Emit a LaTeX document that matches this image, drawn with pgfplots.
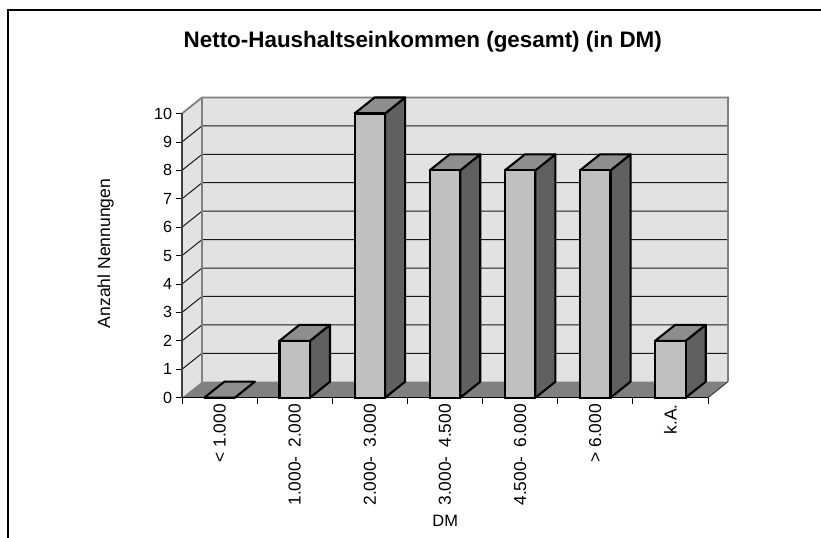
\documentclass[border=0pt]{standalone}
\usepackage{fontspec}
\setmainfont{Liberation Sans}
\usepackage{pgfplots}
\usepackage{pgfplotstable}
\pgfplotsset{compat=1.18}
\definecolor{wallc}{HTML}{E2E2E2}
\definecolor{floorc}{HTML}{808080}
\definecolor{frontc}{HTML}{C0C0C0}
\definecolor{topc}{HTML}{8E8E8E}
\definecolor{sidec}{HTML}{606060}
\pgfplotstableread{
pos val
0.5 0
1.5 2
2.5 10
3.5 8
4.5 8
5.5 8
6.5 2
}\bars
\newcommand{\gap}{\hspace{4bp} }
\begin{document}
\begin{tikzpicture}[x=1bp,y=1bp]
\useasboundingbox (0,0) rectangle (821,538);
\draw[line width=1.5bp,black] (8,0) -- (8,528) -- (821,528);
\begin{axis}[
  at={(182bp,140.3bp)}, anchor=south west,
  scale only axis, width=546bp, height=300.2bp,
  xmin=0, xmax=7.2665, ymin=0, ymax=10.563,
  clip=false,
  axis line style={draw=none},
  tick align=outside,
  xtick pos=lower, ytick pos=left,
  xtick={0.5,1.5,2.5,3.5,4.5,5.5,6.5},
  xticklabels={{< 1.000},{1.000-\gap 2.000},{2.000-\gap 3.000},{3.000-\gap 4.500},{4.500-\gap 6.000},{> 6.000},{k.A.}},
  minor xtick={0,1,2,3,4,5,6,7},
  ytick={0,1,2,3,4,5,6,7,8,9,10},
  major tick length=6.5bp, minor tick length=6.5bp,
  major x tick style={draw=none},
  minor x tick style={black,line width=0.8bp},
  major y tick style={black,line width=0.8bp},
  /pgf/number format/assume math mode=true,
  tick label style={font=\fontsize{16.2}{18}\selectfont},
  xticklabel style={rotate=90,anchor=east,xshift=3.5bp,font=\fontsize{17.4}{19}\selectfont},
  title={Netto-Haushaltseinkommen (gesamt) (in DM)},
  title style={at={(rel axis cs:0.441,1.1649)},anchor=center,font=\bfseries\fontsize{22.5}{26}\selectfont},
  xlabel={DM},
  xlabel style={at={(rel axis cs:0.482,-0.411)},anchor=center,font=\fontsize{16.5}{18}\selectfont},
  ylabel={Anzahl Nennungen},
  ylabel style={at={(rel axis cs:-0.1399,0.4805)},anchor=center,font=\fontsize{17.6}{20}\selectfont},
]
% walls and floor
\addplot[fill=wallc,draw=none] coordinates {(0.2665,0.563)(7.2665,0.563)(7.2665,10.563)(0.2665,10.563)} -- cycle;
\addplot[fill=wallc,draw=none] coordinates {(0,0)(0.2665,0.563)(0.2665,10.563)(0,10)} -- cycle;
\addplot[fill=floorc,draw=none] coordinates {(0,0)(7,0)(7.2665,0.563)(0.2665,0.563)} -- cycle;
% gridlines
\pgfplotsinvokeforeach{1,...,9}{
  \addplot[draw=black!90,line width=1bp] coordinates {(0,#1)(0.2665,#1+0.563)(7.2665,#1+0.563)};
}
% wall edges
\addplot[draw=floorc,line width=1.8bp] coordinates {(0,10)(0.2665,10.563)(7.2665,10.563)(7.2665,0.563)};
\addplot[draw=floorc,line width=1.8bp] coordinates {(0.2665,0.563)(0.2665,10.563)};
\addplot[draw=black!80,line width=0.9bp] coordinates {(7,0)(7.2665,0.563)};
% axes
\addplot[draw=black!75,line width=1.6bp] coordinates {(0,0)(0,10)};
\addplot[draw=black,line width=1.1bp] coordinates {(0,0)(7,0)};
% bar tops and sides
\addplot[fill=topc,draw=black,line width=2.1bp,line join=round] coordinates {(0.297,0)(0.703,0)(0.9695,0.563)(0.5635,0.563)} -- cycle;
\addplot[fill=sidec,draw=black,line width=2.1bp,line join=round] coordinates {(1.703,0)(1.9695,0.563)(1.9695,2.563)(1.703,2)} -- cycle;
\addplot[fill=topc,draw=black,line width=2.1bp,line join=round] coordinates {(1.297,2)(1.703,2)(1.9695,2.563)(1.5635,2.563)} -- cycle;
\addplot[fill=sidec,draw=black,line width=2.1bp,line join=round] coordinates {(2.703,0)(2.9695,0.563)(2.9695,10.563)(2.703,10)} -- cycle;
\addplot[fill=topc,draw=black,line width=2.1bp,line join=round] coordinates {(2.297,10)(2.703,10)(2.9695,10.563)(2.5635,10.563)} -- cycle;
\addplot[fill=sidec,draw=black,line width=2.1bp,line join=round] coordinates {(3.703,0)(3.9695,0.563)(3.9695,8.563)(3.703,8)} -- cycle;
\addplot[fill=topc,draw=black,line width=2.1bp,line join=round] coordinates {(3.297,8)(3.703,8)(3.9695,8.563)(3.5635,8.563)} -- cycle;
\addplot[fill=sidec,draw=black,line width=2.1bp,line join=round] coordinates {(4.703,0)(4.9695,0.563)(4.9695,8.563)(4.703,8)} -- cycle;
\addplot[fill=topc,draw=black,line width=2.1bp,line join=round] coordinates {(4.297,8)(4.703,8)(4.9695,8.563)(4.5635,8.563)} -- cycle;
\addplot[fill=sidec,draw=black,line width=2.1bp,line join=round] coordinates {(5.703,0)(5.9695,0.563)(5.9695,8.563)(5.703,8)} -- cycle;
\addplot[fill=topc,draw=black,line width=2.1bp,line join=round] coordinates {(5.297,8)(5.703,8)(5.9695,8.563)(5.5635,8.563)} -- cycle;
\addplot[fill=sidec,draw=black,line width=2.1bp,line join=round] coordinates {(6.703,0)(6.9695,0.563)(6.9695,2.563)(6.703,2)} -- cycle;
\addplot[fill=topc,draw=black,line width=2.1bp,line join=round] coordinates {(6.297,2)(6.703,2)(6.9695,2.563)(6.5635,2.563)} -- cycle;
% bar fronts
\addplot[ybar,bar width=30.5bp,fill=frontc,draw=black,line width=2.1bp,forget plot] table[x=pos,y=val] {\bars};
\end{axis}
\end{tikzpicture}
\end{document}
